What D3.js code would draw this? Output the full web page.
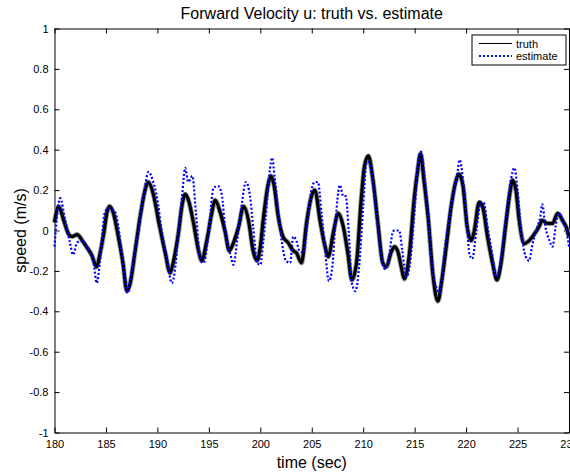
<!DOCTYPE html>
<html>
<head>
    <meta charset="utf-8">
    <script type="text/javascript" src="https://d3js.org/d3.v7.min.js"></script>
    <style>
body {
	margin: 0;
	background: #fff;
}

svg {
	display: block;
	font-family: "Liberation Sans", Arial, Helvetica, sans-serif;
}

.axis path {
	stroke: #000;
}

.axis line {
	stroke: #000;
}

.axis text {
	font-size: 11px;
	fill: #000;
	font-family: "Liberation Sans", Arial, Helvetica, sans-serif;
}

.truthHalo {
	fill: none;
	stroke: #9a9a9a;
	stroke-width: 5;
	stroke-linejoin: round;
}

.truth {
	fill: none;
	stroke: #000;
	stroke-width: 3.2;
	stroke-linejoin: round;
}

.estimate {
	fill: none;
	stroke: #00f;
	stroke-width: 2.2;
	stroke-dasharray: 2,2;
}
    </style>
</head>
<body>
	<svg class="velGraph" width="570" height="474"></svg>

    <script type="text/javascript">

	// truth (black)
	var truthTime = [180.0, 180.4, 180.9, 181.4, 181.7, 182.2, 182.7, 183.1, 183.6, 184.1, 184.4, 184.8, 185.1, 185.35, 185.7,
		186.2, 186.65, 187.04, 187.36, 187.84, 188.33, 188.8, 189.1, 189.6, 189.85, 190.1, 190.3, 190.76, 191.24, 191.57,
		192.05, 192.38, 192.7, 193.02, 193.5, 194.0, 194.3, 194.8, 195.3, 195.6, 196.1, 196.6, 196.98, 197.4, 197.9,
		198.37, 198.85, 199.3, 199.7, 200.0, 200.3, 200.77, 201.03, 201.35, 201.74, 202.2, 202.7, 203.2, 203.5, 204.0,
		204.5, 204.97, 205.3, 205.8, 206.3, 206.6, 207.1, 207.57, 208.06, 208.5, 208.9, 209.35, 209.8, 210.13, 210.5,
		210.95, 211.43, 211.9, 212.25, 212.7, 213.04, 213.4, 213.7, 214.0, 214.5, 214.98, 215.3, 215.57, 215.9, 216.3,
		216.8, 217.26, 217.6, 218.07, 218.55, 219.04, 219.3, 219.7, 220.1, 220.5, 220.8, 221.27, 221.6, 222.08, 222.57,
		223.0, 223.4, 223.87, 224.3, 224.5, 224.84, 225.16, 225.65, 226.13, 226.6, 227.1, 227.4, 227.9, 228.4, 228.9,
		229.37, 229.85, 230.0];
	var truthSpeed = [0.04, 0.12, 0.05, -0.02, -0.03, -0.02, -0.05, -0.08, -0.12, -0.18, -0.12, -0.01, 0.09, 0.12, 0.09,
		-0.03, -0.16, -0.30, -0.26, -0.10, 0.07, 0.20, 0.24, 0.18, 0.12, 0.05, 0.0, -0.11, -0.21, -0.15,
		-0.01, 0.12, 0.18, 0.15, 0.04, -0.10, -0.15, -0.05, 0.09, 0.15, 0.09, -0.01, -0.10, -0.06, 0.02,
		0.12, 0.05, -0.10, -0.15, -0.08, 0.06, 0.23, 0.27, 0.22, 0.07, -0.03, -0.06, -0.10, -0.11, -0.16,
		0.04, 0.17, 0.20, 0.05, -0.08, -0.13, -0.01, 0.085, 0.02, -0.11, -0.245, -0.16, 0.15, 0.32, 0.37,
		0.25, 0.035, -0.16, -0.18, -0.11, -0.08, -0.11, -0.18, -0.24, -0.11, 0.17, 0.30, 0.38, 0.25, 0.07,
		-0.23, -0.35, -0.26, -0.08, 0.12, 0.25, 0.28, 0.22, 0.02, -0.05, 0.0, 0.14, 0.12, -0.03, -0.16,
		-0.245, -0.16, 0.035, 0.20, 0.25, 0.20, 0.05, -0.065, -0.05, -0.02, 0.02, 0.05, 0.035, 0.035, 0.085,
		0.05, 0.0, -0.03];

	// estimate (blue dotted)
	var estTime = [180.0, 180.3, 180.55, 181.04, 181.5, 181.8, 182.2, 182.7, 183.1, 183.8, 184.1, 184.4, 184.9, 185.25, 185.9,
		186.2, 186.5, 186.9, 187.1, 187.5, 188.0, 188.65, 189.14, 189.6, 189.9, 190.1, 190.4, 190.9, 191.4, 191.7,
		192.05, 192.4, 192.7, 193.0, 193.4, 193.74, 194.2, 194.5, 195.0, 195.45, 195.9, 196.25, 196.6, 197.1, 197.4,
		197.75, 198.2, 198.6, 199.0, 199.3, 199.7, 200.0, 200.3, 200.5, 200.93, 201.15, 201.4, 201.74, 202.1, 202.5,
		202.9, 203.2, 203.5, 203.8, 204.2, 204.5, 204.97, 205.3, 205.6, 205.95, 206.3, 206.67, 207.0, 207.3, 207.74,
		208.06, 208.3, 208.6, 208.9, 209.25, 209.6, 210.0, 210.3, 210.45, 210.8, 211.3, 211.75, 212.07, 212.4, 212.9,
		213.04, 213.5, 213.8, 214.2, 214.5, 214.98, 215.37, 215.63, 215.9, 216.3, 216.7, 217.1, 217.4, 217.9, 218.55,
		219.14, 219.37, 219.8, 220.05, 220.33, 220.6, 221.0, 221.4, 221.7, 222.08, 222.57, 222.9, 223.2, 223.7, 224.35,
		224.68, 225.0, 225.3, 225.8, 226.13, 226.4, 226.8, 227.2, 227.4, 227.7, 228.1, 228.4, 228.7, 229.0, 229.4,
		229.85, 230.0];
	var estSpeed = [-0.08, 0.10, 0.16, 0.05, -0.06, -0.12, -0.06, -0.05, -0.08, -0.16, -0.26, -0.16, 0.09, 0.11, 0.09,
		0.02, -0.10, -0.25, -0.31, -0.20, -0.05, 0.17, 0.29, 0.24, 0.18, 0.12, 0.0, -0.13, -0.26, -0.20,
		0.0, 0.17, 0.31, 0.24, 0.27, 0.09, -0.15, -0.16, 0.0, 0.21, 0.22, 0.18, 0.0, -0.12, -0.17,
		-0.05, 0.13, 0.24, 0.17, 0.02, -0.16, -0.17, -0.05, 0.05, 0.30, 0.36, 0.26, 0.10, -0.06, -0.15,
		-0.16, -0.03, -0.05, -0.10, -0.11, 0.0, 0.20, 0.24, 0.24, 0.085, -0.10, -0.25, -0.18, 0.04, 0.225,
		0.17, 0.17, -0.01, -0.26, -0.30, -0.18, 0.12, 0.33, 0.34, 0.29, 0.07, -0.13, -0.19, -0.16, -0.005,
		0.0, 0.0, -0.10, -0.23, -0.18, 0.09, 0.35, 0.39, 0.30, 0.09, -0.18, -0.28, -0.31, -0.10, 0.13,
		0.28, 0.35, 0.20, 0.06, -0.12, -0.14, 0.0, 0.135, 0.14, 0.02, -0.13, -0.23, -0.20, 0.0, 0.25,
		0.31, 0.20, 0.02, -0.13, -0.15, -0.08, 0.0, 0.065, 0.13, 0.02, -0.05, -0.08, 0.02, 0.085, 0.05,
		-0.03, -0.08];

	var xTicks = [180, 185, 190, 195, 200, 205, 210, 215, 220, 225, 230],
		yTicks = [-1, -0.8, -0.6, -0.4, -0.2, 0, 0.2, 0.4, 0.6, 0.8, 1];

	var svg = d3.select(".velGraph"),
		mLeft = 54.5, mRight = 569, mTop = 28.5, mBottom = 432.5;

	var xScale = d3.scaleLinear()
		.domain([180, 230])
		.range([mLeft, mRight]);

	var yScale = d3.scaleLinear()
		.domain([-1, 1])
		.range([mBottom, mTop]);

	var fmt = function(d) { return String(+d.toFixed(1)); };

	// box + inward ticks, matlab style
	svg.append("g")
		.attr("class", "axis")
		.attr("transform", "translate(0," + mBottom + ")")
		.call(d3.axisBottom(xScale).tickValues(xTicks).tickSizeInner(-5).tickSizeOuter(0).tickPadding(8).tickFormat(fmt));

	svg.append("g")
		.attr("class", "axis")
		.attr("transform", "translate(0," + mTop + ")")
		.call(d3.axisTop(xScale).tickValues(xTicks).tickSizeInner(-5).tickSizeOuter(0).tickFormat(""));

	svg.append("g")
		.attr("class", "axis")
		.attr("transform", "translate(" + mLeft + ",0)")
		.call(d3.axisLeft(yScale).tickValues(yTicks).tickSizeInner(-5).tickSizeOuter(0).tickPadding(6).tickFormat(fmt));

	svg.append("g")
		.attr("class", "axis")
		.attr("transform", "translate(" + mRight + ",0)")
		.call(d3.axisRight(yScale).tickValues(yTicks).tickSizeInner(-5).tickSizeOuter(0).tickFormat(""));

	var line = d3.line()
		.x(function(d) { return xScale(d[0]); })
		.y(function(d) { return yScale(d[1]); })
		.curve(d3.curveMonotoneX);

	var plot = svg.append("g");
	var truthData = truthTime.map(function(t, i) { return [t, truthSpeed[i]]; });

	// grey halo stands in for the noise band around the truth signal
	plot.append("path")
		.datum(truthData)
		.attr("class", "truthHalo")
		.attr("d", line);

	plot.append("path")
		.datum(truthData)
		.attr("class", "truth")
		.attr("d", line);

	plot.append("path")
		.datum(estTime.map(function(t, i) { return [t, estSpeed[i]]; }))
		.attr("class", "estimate")
		.attr("d", line);

	// titles
	svg.append("text")
		.attr("x", (mLeft + mRight) / 2)
		.attr("y", 19)
		.attr("text-anchor", "middle")
		.style("font-size", "16px")
		.text("Forward Velocity u: truth vs. estimate");

	svg.append("text")
		.attr("x", (mLeft + mRight) / 2)
		.attr("y", 468)
		.attr("text-anchor", "middle")
		.style("font-size", "16px")
		.text("time (sec)");

	svg.append("text")
		.attr("transform", "translate(26," + ((mTop + mBottom) / 2) + ") rotate(-90)")
		.attr("text-anchor", "middle")
		.style("font-size", "16px")
		.text("speed (m/s)");

	// legend
	var legend = svg.append("g");
	legend.append("rect")
		.attr("x", 472).attr("y", 35)
		.attr("width", 94).attr("height", 30)
		.attr("fill", "#fff")
		.attr("stroke", "#000")
		.attr("stroke-width", 1);

	var legendItems = ["truth", "estimate"];
	legendItems.forEach(function(d, i) {
		var y = 43.5 + i * 12.5;
		legend.append("line")
			.attr("x1", 479).attr("x2", 512)
			.attr("y1", y).attr("y2", y)
			.attr("stroke", i == 0 ? "#000" : "#00f")
			.attr("stroke-width", i == 0 ? 1 : 2)
			.attr("stroke-dasharray", i == 0 ? null : "2,2");
		legend.append("text")
			.attr("x", 516)
			.attr("y", y + 4)
			.style("font-size", "11px")
			.text(d);
	});
	</script>
</body>
</html>
